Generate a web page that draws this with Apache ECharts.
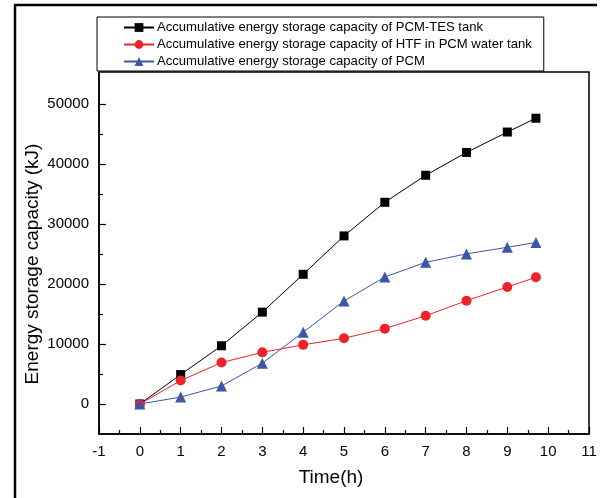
<!DOCTYPE html>
<html><head><meta charset="utf-8">
<script src="https://cdn.jsdelivr.net/npm/echarts@6/dist/echarts.min.js"></script>
<style>html,body{margin:0;padding:0;background:#fff}#c{width:603px;height:498px}</style>
</head><body><div id="c"></div>
<script>
const times = [0, 1, 2, 3, 4, 5, 6, 7, 8, 9, 9.7];
const tankValues = [0, 4900, 9700, 15300, 21600, 28000, 33600, 38100, 41900, 45300, 47600];
const htfValues = [0, 3900, 6900, 8600, 9850, 10950, 12550, 14700, 17200, 19500, 21100];
const pcmValues = [0, 1150, 3000, 6800, 11950, 17150, 21150, 23600, 25000, 26100, 26900];
const seriesNames = [
  'Accumulative energy storage capacity of PCM-TES tank',
  'Accumulative energy storage capacity of HTF in PCM water tank',
  'Accumulative energy storage capacity of PCM'
];
const yMajorTicks = [0, 10000, 20000, 30000, 40000, 50000];
const yMinorTicks = [5000, 15000, 25000, 35000, 45000];

const font = 'Liberation Sans, Arial, sans-serif';
const pairs = vals => times.map((t, i) => [t, vals[i]]);

const chart = echarts.init(document.getElementById('c'));
const yBase = {
  type: 'value', min: -5000, max: 55300, position: 'left',
  splitLine: { show: false },
  axisLine: { onZero: false }
};
chart.setOption({
  animation: false,
  backgroundColor: '#fff',
  grid: { left: 99, top: 72, right: 14, bottom: 64, show: true, borderColor: '#000', borderWidth: 1.5 },
  legend: {
    orient: 'vertical', left: 97, top: 17,
    data: seriesNames,
    borderColor: '#000', borderWidth: 1, borderRadius: 0,
    padding: [4, 12, 3, 26],
    itemGap: 4, itemWidth: 30, itemHeight: 11,
    textStyle: { fontFamily: font, fontSize: 13.1, color: '#000', padding: [0, 0, 0, -2] }
  },
  xAxis: {
    type: 'value', min: -1, max: 11, interval: 1,
    name: 'Time(h)', nameLocation: 'middle', nameGap: 34, nameMoveOverlap: false,
    nameTextStyle: { fontFamily: font, fontSize: 19, color: '#000', padding: [0, 26, 0, 0] },
    axisLine: { onZero: false, lineStyle: { color: '#000', width: 1.5 } },
    axisTick: { inside: true, length: 7, lineStyle: { color: '#000', width: 1.2 } },
    minorTick: { show: true, splitNumber: 2, length: 4, lineStyle: { color: '#000', width: 1.2 } },
    axisLabel: { fontFamily: font, fontSize: 15, color: '#000', margin: 10 },
    splitLine: { show: false }
  },
  yAxis: [
    Object.assign({}, yBase, {
      name: 'Energy storage capacity (kJ)', nameLocation: 'middle', nameGap: 57, nameMoveOverlap: false,
      nameTextStyle: { fontFamily: font, fontSize: 19, color: '#000', padding: [0, 22, 0, 0] },
      axisLine: { onZero: false, lineStyle: { color: '#000', width: 1.5 } },
      axisTick: { inside: true, length: 7, customValues: yMajorTicks, lineStyle: { color: '#000', width: 1.2 } },
      axisLabel: { fontFamily: font, fontSize: 15, color: '#000', margin: 10, customValues: yMajorTicks,
        formatter: v => String(v) }
    }),
    Object.assign({}, yBase, {
      axisLine: { show: false, onZero: false },
      axisTick: { inside: true, length: 4, customValues: yMinorTicks, lineStyle: { color: '#000', width: 1.2 } },
      axisLabel: { show: false }
    })
  ],
  series: [
    { name: seriesNames[0], type: 'line', data: pairs(tankValues), symbol: 'rect', symbolSize: 9,
      itemStyle: { color: '#000' }, lineStyle: { color: '#000', width: 1 } },
    { name: seriesNames[1], type: 'line', data: pairs(htfValues), symbol: 'circle', symbolSize: 10,
      itemStyle: { color: '#ee2229' }, lineStyle: { color: '#ee2229', width: 1 } },
    { name: seriesNames[2], type: 'line', data: pairs(pcmValues), symbol: 'triangle', symbolSize: 11,
      itemStyle: { color: '#3b57a6' }, lineStyle: { color: '#3b57a6', width: 1 } }
  ],
  graphic: [
    { type: 'line', shape: { x1: 15, y1: 5, x2: 15, y2: 498 }, style: { stroke: '#000', lineWidth: 2.5 } },
    { type: 'line', shape: { x1: 14, y1: 5, x2: 597, y2: 5 }, style: { stroke: '#000', lineWidth: 2.5 } }
  ]
});
</script></body></html>
